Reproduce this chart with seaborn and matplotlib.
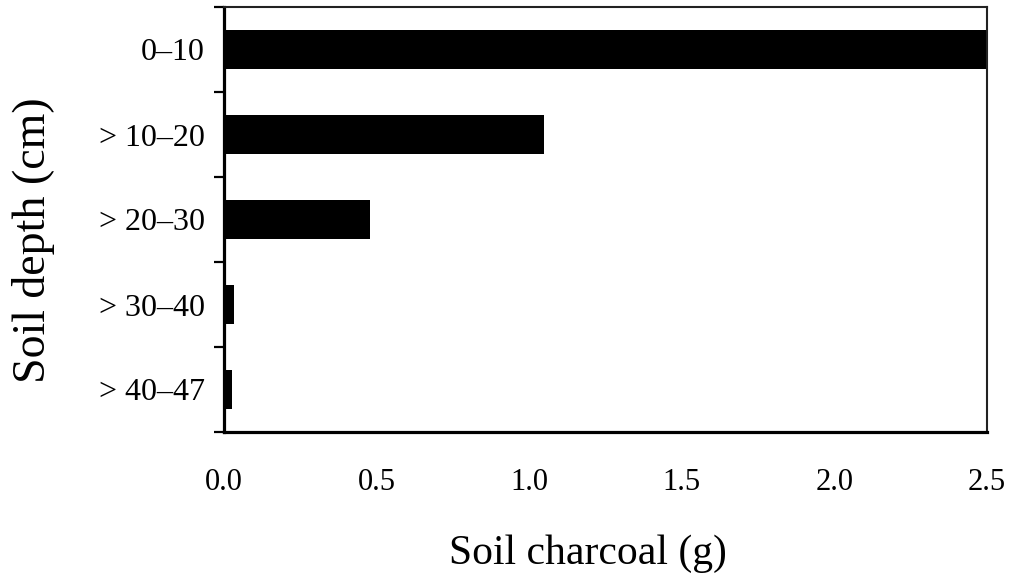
import matplotlib
matplotlib.use("Agg")
import matplotlib.pyplot as plt
import seaborn as sns
import pandas as pd
import numpy as np

# Soil charcoal mass per depth interval
depths = ["0\u201310", "> 10\u201320", "> 20\u201330", "> 30\u201340", "> 40\u201347"]
charcoal = [2.5, 1.05, 0.48, 0.033, 0.026]
xticks = [0.0, 0.5, 1.0, 1.5, 2.0, 2.5]

sns.set_style("ticks")
plt.rcParams["font.family"] = ["Liberation Serif", "DejaVu Serif"]
plt.rcParams["text.color"] = "black"
plt.rcParams["axes.labelcolor"] = "black"
plt.rcParams["xtick.color"] = "black"
plt.rcParams["ytick.color"] = "black"

df = pd.DataFrame({"depth": depths, "charcoal": charcoal})

fig = plt.figure(figsize=(10.13, 5.79), dpi=100)
ax = fig.add_axes([224 / 1013, 1 - 432 / 579, (987 - 224) / 1013, (432 - 7) / 579])

sns.barplot(data=df, x="charcoal", y="depth", orient="h", color="black",
            width=0.45, edgecolor="none", linewidth=0, saturation=1, ax=ax)

ax.set_xlim(0, 2.5)
ax.set_ylim(len(depths) - 0.5, -0.5)
ax.set_xticks(xticks)
ax.set_xticklabels([f"{v:.1f}" for v in xticks])

# category boundaries carry the visible tick marks
ax.set_yticks(np.arange(-0.5, len(depths), 1.0), minor=True)
ax.tick_params(axis="y", which="major", length=0, pad=14, labelsize=23, labelcolor="black")
ax.tick_params(axis="y", which="minor", length=7, width=1.6, direction="out", color="black")
ax.tick_params(axis="x", which="major", length=0, pad=26, labelsize=22, labelcolor="black")
ax.tick_params(axis="x", which="minor", length=0)

for side in ["left", "bottom"]:
    ax.spines[side].set_linewidth(2.3)
    ax.spines[side].set_color("black")
for side in ["top", "right"]:
    ax.spines[side].set_visible(True)
    ax.spines[side].set_linewidth(1.5)
    ax.spines[side].set_color("#222222")

ax.set_xlabel("Soil charcoal (g)", fontsize=30, color="black")
ax.set_ylabel("Soil depth (cm)", fontsize=33, color="black")
ax.xaxis.set_label_coords(0.477, -0.24)
ax.yaxis.set_label_coords(-0.221, 0.452)

fig.savefig("out.png", dpi=100, facecolor="white")
